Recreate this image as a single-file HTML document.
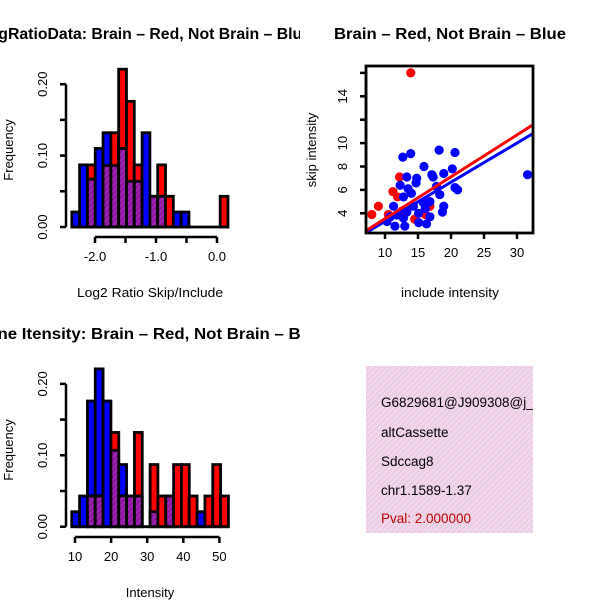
<!DOCTYPE html>
<html><head><meta charset="utf-8"><style>
html,body{margin:0;padding:0;background:#fff;}
svg{display:block;font-family:"Liberation Sans",Helvetica,Arial,sans-serif;}
</style></head><body>
<svg id="s" width="600" height="600" viewBox="0 0 600 600" xmlns="http://www.w3.org/2000/svg">
<defs>
<pattern id="hatch" width="4" height="4" patternUnits="userSpaceOnUse" patternTransform="rotate(45)">
<rect width="4" height="4" fill="#a020c0"/><rect width="2" height="4" fill="#8a1a90"/></pattern>
<pattern id="pink" width="4" height="4" patternUnits="userSpaceOnUse" patternTransform="rotate(45)">
<rect width="4" height="4" fill="#f7d3f0"/><rect width="1.3" height="4" fill="#dcd0d6"/></pattern>
<clipPath id="c1"><rect x="0" y="0" width="300" height="300"/></clipPath>
<clipPath id="c3"><rect x="0" y="300" width="300" height="300"/></clipPath>
<clipPath id="c2"><rect x="300" y="0" width="300" height="300"/></clipPath>
<clipPath id="c4"><rect x="366" y="366" width="167" height="167"/></clipPath>
<clipPath id="cs"><rect x="366" y="66" width="167" height="167"/></clipPath>
</defs>
</svg>
<script>
// ---- data ----
const ratioBlue = [0.021,0.087,0.067,0.110,0.132,0.086,0.110,0.064,0.064,0.132,0.043,0.043,0,0.021,0.021,0,0,0,0,0];
const ratioRed  = [0,0,0.087,0,0.086,0.132,0.221,0.176,0.087,0,0.043,0.087,0.043,0,0,0,0,0,0,0.043];
const ratioStart = -2.38, ratioWidth = 0.128;
const ratioXTicks = [-2.0,-1.5,-1.0,-0.5,0.0];
const ratioXLabels = ["-2.0","","-1.0","","0.0"];
const freqTicks = [0,0.05,0.10,0.15,0.20];
const freqLabels = ["0.00","","0.10","","0.20"];
const intBlue = [0.021,0.043,0.176,0.221,0.176,0.107,0.087,0.043,0.043,0,0.021,0,0.043,0,0,0,0.021,0,0,0];
const intRed  = [0,0,0.043,0.043,0,0.132,0.043,0.043,0.132,0,0.087,0.043,0.043,0.087,0.087,0.043,0,0.043,0.087,0.043];
const intStart = 9.1, intWidth = 2.17;
const intXTicks = [10,20,30,40,50];
const scXTicks = [10,15,20,25,30];
const scYTicks = [4,6,8,10,12,14,16];
const scYLabels = ["4","6","8","10","","14",""];
const redX = [13.9,8.0,9.0,11.2,12.2,10.5,16.1,11.9,16.8,12.6,14.5];
const redY = [16.0,3.9,4.6,5.85,7.1,3.9,3.9,5.4,4.6,4.2,3.5];
const blueX = [12.7,13.9,18.2,20.6,15.9,20.2,13.3,14.8,17.1,18.9,17.3,14.7,12.3,13.5,11.3,12.8,14.0,15.8,16.8,18.3,20.6,21.0,18.9,18.7,11.8,11.5,13.0,15.1,16.3,16.8,12.8,10.3,14.3,15.1,16.1,31.6,17.8,10.8,13.3];
const blueY = [8.8,9.1,9.4,9.2,8.0,7.8,7.1,7.0,7.3,7.4,7.1,6.6,6.4,6.1,4.6,5.4,5.7,4.9,5.0,5.6,6.2,6.0,4.6,4.1,3.85,2.9,2.9,3.2,3.1,3.7,3.6,3.3,4.6,4.0,4.4,7.3,6.3,3.7,4.1];
const fitRed = [-0.04,0.358];   // intercept, slope
const fitBlue = [-0.04,0.335];
const infoLines = ["G6829681@J909308@j_","altCassette","Sdccag8","chr1.1589-1.37"];
const pvalText = "Pval: 2.000000";

const S = document.getElementById('s');
const NS = "http://www.w3.org/2000/svg";
function mk(tag, attrs, parent){const e=document.createElementNS(NS,tag);for(const k in attrs)e.setAttribute(k,attrs[k]);(parent||S).appendChild(e);return e;}
function txt(str,attrs,parent){const e=mk('text',attrs,parent);e.textContent=str;return e;}

function hist(g, blue, red, start, width, xs, ys){
  for(let i=0;i<blue.length;i++){
    const a=start+i*width, b=a+width, bv=blue[i], rv=red[i];
    const mx=Math.max(bv,rv), mn=Math.min(bv,rv);
    if(mx<=0) continue;
    const r=mk('rect',{x:xs(a),y:ys(mx),width:xs(b)-xs(a),height:ys(0)-ys(mx),fill:bv>=rv?'#0000ff':'#ff0000',stroke:'#000','stroke-width':2.8},g);
    
    
    if(mn>0){
      const p=mk('rect',{x:xs(a),y:ys(mn),width:xs(b)-xs(a),height:ys(0)-ys(mn),fill:'url(#hatch)',stroke:'#000','stroke-width':2.8},g);
      
      
    }
  }
  mk('line',{x1:xs(start)-1,x2:xs(start+blue.length*width)+1,y1:ys(0),y2:ys(0),stroke:'#000','stroke-width':2.8},g);
}
function yAxis(g, ys, ticks, labels, x){
  const ax=mk('g',{},g);
  
  
  mk('line',{x1:x,x2:x,y1:ys(ticks[0]),y2:ys(ticks[ticks.length-1]),stroke:'#000','stroke-width':2.5},ax);
  ticks.forEach((t,i)=>{const y=ys(t);mk('line',{x1:x,x2:x-6,y1:y,y2:y,stroke:'#000','stroke-width':2.5},ax);
    if(labels[i]){const lx=x-19;const tl=txt(labels[i],{x:lx,y:y,'font-size':13,'text-anchor':'middle',transform:`rotate(-90 ${lx} ${y})`},ax);
      
      }});
}
function xAxis(g, xs, ticks, labels, y){
  const ax=mk('g',{},g);
  
  
  mk('line',{x1:xs(ticks[0]),x2:xs(ticks[ticks.length-1]),y1:y,y2:y,stroke:'#000','stroke-width':2.5},ax);
  ticks.forEach((t,i)=>{const x=xs(t);mk('line',{x1:x,x2:x,y1:y,y2:y+6,stroke:'#000','stroke-width':2.5},ax);
    if(labels[i]){const tl=txt(labels[i],{x:x,y:y+24,'font-size':13,'text-anchor':'middle'},ax);
      
      }});
}

// ---- panel 1 ----
const g1=mk('g',{'clip-path':'url(#c1)'});


const ys1=v=>227-v*714;
const xs1=v=>95+(v+2)*61;
hist(g1,ratioBlue,ratioRed,ratioStart,ratioWidth,xs1,ys1);
yAxis(g1,ys1,freqTicks,freqLabels,66);
xAxis(g1,xs1,ratioXTicks,ratioXLabels,237);
let t=txt("LogRatioData: Brain \u2013 Red, Not Brain \u2013 Blue",{x:145,y:39,'font-size':15.5,'font-weight':'bold','text-anchor':'middle',textLength:332,lengthAdjust:'spacingAndGlyphs'},g1);


t=txt("Log2 Ratio Skip/Include",{x:150,y:297,'font-size':13,'text-anchor':'middle',textLength:146,lengthAdjust:'spacingAndGlyphs'},g1);


t=txt("Frequency",{x:13,y:150,'font-size':13,'text-anchor':'middle',transform:'rotate(-90 13 150)'},g1);



// ---- panel 3 ----
const g3=mk('g',{'clip-path':'url(#c3)'});


const ys3=v=>526.7-v*714;
const xs3=v=>75+(v-10)*3.61;
hist(g3,intBlue,intRed,intStart,intWidth,xs3,ys3);
yAxis(g3,ys3,freqTicks,freqLabels,66);
xAxis(g3,xs3,intXTicks,intXTicks.map(String),537);
t=txt("Gene Itensity: Brain \u2013 Red, Not Brain \u2013 Blue",{x:150,y:339,'font-size':15.5,'font-weight':'bold','text-anchor':'middle',textLength:350,lengthAdjust:'spacingAndGlyphs'},g3);


t=txt("Intensity",{x:150,y:597,'font-size':13,'text-anchor':'middle'},g3);


t=txt("Frequency",{x:13,y:450,'font-size':13,'text-anchor':'middle',transform:'rotate(-90 13 450)'},g3);



// ---- panel 2 scatter ----
const g2=mk('g',{'clip-path':'url(#c2)'});


const xs2=v=>385+(v-10)*6.6;
const ys2=v=>213.3-(v-4)*11.7;
const pts=mk('g',{'clip-path':'url(#cs)'},g2);
redX.forEach((x,i)=>{const c=mk('circle',{cx:xs2(x),cy:ys2(redY[i]),r:4.6,fill:'#ff0000'},pts);
  
  });
blueX.forEach((x,i)=>{const c=mk('circle',{cx:xs2(x),cy:ys2(blueY[i]),r:4.6,fill:'#0000ff'},pts);
  
  });
[[fitBlue,'#0000ff','fit-line-blue'],[fitRed,'#ff0000','fit-line-red']].forEach(([f,col,nm])=>{
  const xa=6,xb=34;
  const l=mk('line',{x1:xs2(xa),y1:ys2(f[0]+f[1]*xa),x2:xs2(xb),y2:ys2(f[0]+f[1]*xb),stroke:col,'stroke-width':3},pts);
  
  });
mk('rect',{x:366,y:66,width:167,height:167,fill:'none',stroke:'#000','stroke-width':2.8},g2);
yAxis(g2,ys2,scYTicks,scYLabels,366);
xAxis(g2,xs2,scXTicks,scXTicks.map(String),233);
t=txt("Brain \u2013 Red, Not Brain \u2013 Blue",{x:450,y:39,'font-size':15.5,'font-weight':'bold','text-anchor':'middle',textLength:232,lengthAdjust:'spacingAndGlyphs'},g2);


t=txt("include intensity",{x:450,y:297,'font-size':13,'text-anchor':'middle',textLength:98,lengthAdjust:'spacingAndGlyphs'},g2);


t=txt("skip intensity",{x:316,y:150,'font-size':13,'text-anchor':'middle',transform:'rotate(-90 316 150)'},g2);



// ---- panel 4 info ----
const g4=mk('g',{'clip-path':'url(#c4)'});


mk('rect',{x:366,y:366,width:167,height:167,fill:'url(#pink)'},g4);
const base=[407,437,466,495];
infoLines.forEach((s,i)=>{const e=txt(s,{x:381,y:base[i],'font-size':13.5,fill:'#000'},g4);
  
  });
t=txt(pvalText,{x:381,y:523,'font-size':13.5,fill:'#c00000'},g4);


</script>
</body></html>
